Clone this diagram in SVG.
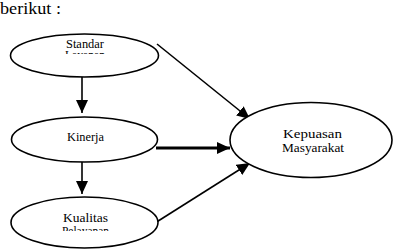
<svg xmlns="http://www.w3.org/2000/svg" width="394" height="251" viewBox="0 0 394 251">
  <style>
    .node ellipse { fill: #fff; stroke: #000; stroke-width: 1.6; }
    text { font-family: "Liberation Serif", "DejaVu Serif", "Times New Roman", serif; fill: #000; }
    .label { text-anchor: middle; }
    .small { font-size: 11.5px; }
    .big { font-size: 13px; }
    .conn line { stroke: #000; stroke-width: 1.6; }
    .conn line.thick { stroke-width: 3; }
  </style>
  <defs>
    <marker id="head" markerUnits="userSpaceOnUse" markerWidth="14" markerHeight="12" refX="13" refY="6" orient="auto">
      <path d="M0,0 L13,6 L0,12 Z" fill="#000"/>
    </marker>
    <clipPath id="clip-standar"><rect x="0" y="0" width="200" height="54"/></clipPath>
    <clipPath id="clip-kualitas"><rect x="0" y="190" width="200" height="41"/></clipPath>
  </defs>
  <rect width="394" height="251" fill="#fff"/>

  <text x="0" y="14" font-size="16" textLength="61" lengthAdjust="spacingAndGlyphs">berikut :</text>

  <g id="connectors" class="conn">
    <line x1="82" y1="77" x2="82" y2="113" marker-end="url(#head)"/>
    <line x1="82" y1="162" x2="82" y2="194" marker-end="url(#head)"/>
    <line x1="157" y1="44" x2="250" y2="119" marker-end="url(#head)"/>
    <line class="thick" x1="156" y1="148" x2="230" y2="148" marker-end="url(#head)"/>
    <line x1="155" y1="223" x2="250" y2="163" marker-end="url(#head)"/>
  </g>

  <g id="standar-layanan" class="node">
    <ellipse cx="84.5" cy="55.5" rx="74" ry="21.5"/>
    <g clip-path="url(#clip-standar)">
      <text class="label small" x="85" y="48" textLength="38" lengthAdjust="spacingAndGlyphs">Standar</text>
      <text class="label small" x="85" y="58.5" textLength="40" lengthAdjust="spacingAndGlyphs">Layanan</text>
    </g>
  </g>

  <g id="kinerja" class="node">
    <ellipse cx="84.5" cy="139.5" rx="73" ry="22.5"/>
    <text class="label small" x="85.5" y="141" textLength="37" lengthAdjust="spacingAndGlyphs">Kinerja</text>
  </g>

  <g id="kualitas-pelayanan" class="node">
    <ellipse cx="84.5" cy="222.5" rx="73.5" ry="25.5"/>
    <g clip-path="url(#clip-kualitas)">
      <text class="label small" x="85.5" y="222" textLength="45" lengthAdjust="spacingAndGlyphs">Kualitas</text>
      <text class="label small" x="85.5" y="234.5" textLength="47" lengthAdjust="spacingAndGlyphs">Pelayanan</text>
    </g>
  </g>

  <g id="kepuasan-masyarakat" class="node">
    <ellipse cx="311" cy="140" rx="81" ry="37.5"/>
    <text class="label big" x="312.5" y="138" textLength="59" lengthAdjust="spacingAndGlyphs">Kepuasan</text>
    <text class="label big" x="313" y="152" textLength="62" lengthAdjust="spacingAndGlyphs">Masyarakat</text>
  </g>
</svg>
